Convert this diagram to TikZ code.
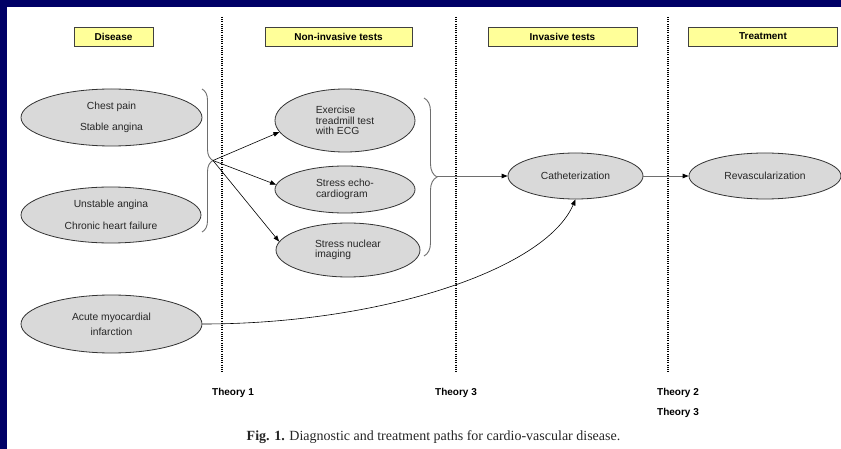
\documentclass[tikz,border=0pt]{standalone}
\usepackage{fontspec}
\setmainfont{Liberation Serif}
\setsansfont{Liberation Sans}
\usetikzlibrary{positioning, shapes.geometric, arrows.meta, decorations.pathreplacing}
\definecolor{framebg}{HTML}{000066}
\definecolor{hdrfill}{HTML}{FFFF99}
\definecolor{ovalfill}{HTML}{D9D9D9}
\definecolor{linegray}{HTML}{6E6E6E}

\begin{document}
\begin{tikzpicture}[x=1pt, y=-1pt, font=\sffamily\fontsize{10.3}{10.5}\selectfont,
 hdr/.style={draw=black!75, fill=hdrfill, line width=0.9pt, minimum height=19pt, inner sep=0pt, font=\sffamily\bfseries\fontsize{10}{11}\selectfont},
 oval/.style={ellipse, draw=black!80, fill=ovalfill, line width=0.8pt, inner sep=0pt, text=black!85},
 sep/.style={line width=1.3pt, dash pattern=on 1.1pt off 1.1pt},
 tip/.style={-{Triangle[length=6pt,width=4.5pt]}, black, line width=0.6pt},
 gtip/.style={-{Triangle[length=6pt,width=4.5pt,color=black]}, draw=linegray, line width=0.9pt},
 brc/.style={decorate, draw=linegray, line width=0.9pt},
 thy/.style={font=\sffamily\bfseries\fontsize{10}{11}\selectfont}]
\fill[framebg] (0,0) rectangle (841,449);
\fill[white] (7,7) rectangle (841,449);
\useasboundingbox (0,0) rectangle (841,449);

% column heads
\node[hdr, minimum width=79pt](hdis) at (113.5,36.5){Disease};
\node[hdr, minimum width=147pt](hnon) at (338.5,36.5){Non-invasive tests};
\node[hdr, minimum width=149pt](hinv) at (562.5,36.5){Invasive tests};
\node[hdr, minimum width=149pt](htrt) at (763,36.5){Treatment};

% column separators
\foreach \x in {222,456,668}
  {\draw[sep] (\x,17) -- (\x,372);}

\node[oval, align=center, minimum width=181pt, minimum height=57pt](chest) at (111.5,117.5){Chest pain\\[10pt]Stable angina};
\node[oval, align=center, minimum width=180pt, minimum height=56pt](unst) at (111,215){Unstable angina\\[11pt]Chronic heart failure};
\node[oval, align=center, minimum width=181pt, minimum height=58pt](ami) at (111.5,324){Acute myocardial\\[4.5pt]infarction};

\node[oval, align=left, minimum width=140pt, minimum height=63pt](ex) at (345,120.5){Exercise\\treadmill test\\with ECG};
\node[oval, align=left, minimum width=140pt, minimum height=47pt](echo) at (345,189.5){Stress echo-\\cardiogram};
\node[oval, align=left, minimum width=144pt, minimum height=54pt](nuc) at (348,250){Stress nuclear\\imaging};

\node[oval, minimum width=135pt, minimum height=46pt](cath) at (575.5,176){Catheterization};
\node[oval, minimum width=152pt, minimum height=46pt](revasc) at (765,176){Revascularization};

% braces
\draw[brc, decoration={brace, amplitude=11pt}] (202,89) -- (202,232);
\draw[brc, decoration={brace, amplitude=13pt}] (424,98) -- (424,256);
\coordinate (ltip) at (213,160.5);
\coordinate (rtip) at (437,176);

\foreach \t/\a in {ex/190, echo/176, nuc/173}
  {\draw[tip] (ltip) -- (\t.\a);}
\draw[gtip] (rtip) -- (cath.west);
\draw[gtip] (cath) -- (revasc);
\draw[tip] (ami.east) .. controls (380,324) and (545,270) .. (cath.south);

\node[thy](th1) at (233,393){Theory 1};
\node[thy](th3a) at (456,393){Theory 3};
\node[thy](th2) at (678,393){Theory 2};
\node[thy](th3b) at (678,413){Theory 3};

\node[font=\rmfamily\fontsize{14}{16}\selectfont, text=black!85](cap) at (433.5,437){\textbf{Fig. 1.} Diagnostic and treatment paths for cardio-vascular disease.};
\end{tikzpicture}
\end{document}
